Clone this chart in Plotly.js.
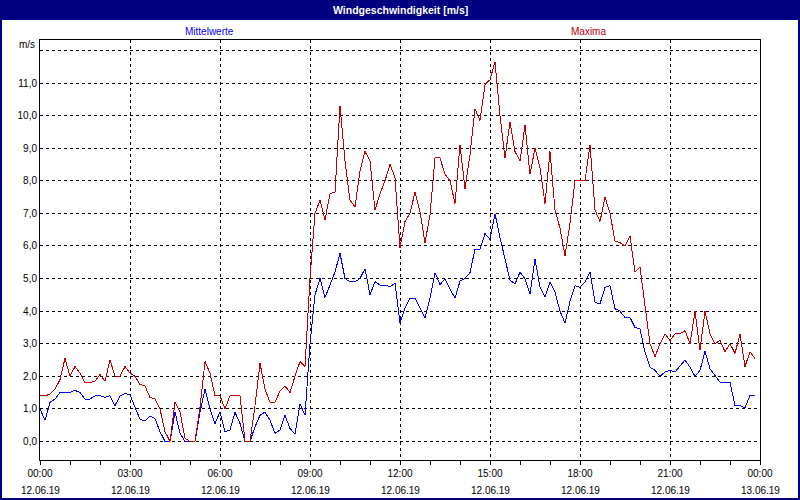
<!DOCTYPE html>
<html>
<head>
<meta charset="utf-8">
<script src="https://cdn.plot.ly/plotly-3.0.1.min.js"></script>
<style>
html, body { margin: 0; padding: 0; background: #ffffff; }
#chart { width: 800px; height: 500px; }
#chart .scatterlayer path.js-line { shape-rendering: crispEdges; }
</style>
</head>
<body>
<div id="chart"></div>
<script>
// 10-minute values, 12.06.19 00:00 .. 23:50
const maxima = [
  1.4, 1.4, 1.45, 1.6, 1.9, 2.55, 2.0, 2.3, 2.1, 1.8, 1.8, 1.85,
  2.05, 1.85, 2.5, 2.0, 2.0, 2.3, 2.1, 2.0, 1.75, 1.7, 1.35, 1.3,
  1.0, 0.3, 0.0, 1.2, 0.9, 0.1, 0.0, 0.0, 1.05, 2.45, 2.1, 1.4,
  1.4, 1.0, 1.4, 1.4, 1.4, 0.0, 0.0, 1.1, 2.4, 1.6, 1.2, 1.2,
  1.55, 1.7, 1.5, 2.0, 2.45, 2.3, 5.0, 7.0, 7.4, 6.8, 7.6, 7.65,
  10.3, 8.6, 7.4, 7.2, 8.3, 8.9, 8.6, 7.1, 7.6, 8.0, 8.5, 8.1,
  5.95, 6.75, 7.0, 7.65, 7.05, 6.1, 6.95, 8.7, 8.7, 8.2, 8.0, 7.3,
  9.1, 7.75, 8.8, 10.2, 9.85, 10.95, 11.1, 11.65, 10.0, 8.7, 9.8, 8.9,
  8.6, 9.7, 8.2, 9.0, 8.4, 7.3, 8.9, 7.1, 6.55, 5.7, 6.7, 8.0,
  8.0, 8.0, 9.1, 7.1, 6.75, 7.5, 7.0, 6.15, 6.1, 6.0, 6.3, 5.2,
  5.35, 4.1, 3.0, 2.6, 3.0, 3.3, 3.1, 3.3, 3.3, 3.4, 3.0, 4.0,
  2.8, 4.0, 3.3, 3.0, 3.1, 2.75, 3.0, 2.7, 3.3, 2.3, 2.75, 2.55
];
const mittelwerte = [
  1.0, 0.65, 1.2, 1.3, 1.5, 1.5, 1.5, 1.57, 1.5, 1.3, 1.3, 1.4,
  1.4, 1.35, 1.4, 1.1, 1.4, 1.47, 1.43, 1.05, 0.68, 0.63, 0.78, 0.7,
  0.3, 0.0, 0.0, 0.9, 0.25, 0.0, 0.0, 0.0, 0.9, 1.6, 1.0, 0.55,
  0.9, 0.3, 0.35, 0.9, 0.55, 0.0, 0.0, 0.45, 0.8, 0.9, 0.65, 0.25,
  0.35, 0.8, 0.4, 0.22, 1.15, 0.8, 3.0, 4.5, 5.0, 4.42, 4.8, 5.2,
  5.77, 5.0, 4.9, 4.9, 5.0, 5.3, 4.5, 4.9, 4.8, 4.8, 4.75, 4.85,
  3.65, 4.1, 4.4, 4.4, 4.1, 3.8, 4.4, 5.18, 4.82, 4.98, 4.67, 4.4,
  4.92, 5.0, 5.18, 5.9, 5.9, 6.38, 6.2, 6.99, 6.25, 5.55, 4.95, 4.84,
  5.19, 4.99, 4.53, 5.6, 4.73, 4.43, 4.89, 4.58, 4.0, 3.63, 4.3, 4.78,
  4.73, 4.89, 5.19, 4.27, 4.22, 4.73, 4.78, 4.07, 4.0, 3.8, 3.8, 3.5,
  3.45, 2.74, 2.28, 2.18, 2.0, 2.13, 2.18, 2.13, 2.33, 2.5, 2.28, 2.0,
  2.18, 2.77, 2.23, 2.02, 1.82, 1.82, 1.82, 1.1, 1.1, 1.03, 1.41, 1.41
];
const tickTimes = ['2019-06-12 00:00','2019-06-12 03:00','2019-06-12 06:00','2019-06-12 09:00',
  '2019-06-12 12:00','2019-06-12 15:00','2019-06-12 18:00','2019-06-12 21:00','2019-06-13 00:00'];
const tickTimeLabels = ['00:00','03:00','06:00','09:00','12:00','15:00','18:00','21:00','00:00'];
const tickDateLabels = ['12.06.19','12.06.19','12.06.19','12.06.19','12.06.19','12.06.19','12.06.19','12.06.19','13.06.19'];
const yTickVals = [0,1,2,3,4,5,6,7,8,9,10,11,12];
const yTickLabels = ['0,0','1,0','2,0','3,0','4,0','5,0','6,0','7,0','8,0','9,0','10,0','11,0',''];
const titleText = 'Windgeschwindigkeit [m/s]';
const unitText = 'm/s';
const seriesNames = ['Mittelwerte', 'Maxima'];

// time stamps every 10 minutes
function pad(n) { return (n < 10 ? '0' : '') + n; }
const times = [];
for (let i = 0; i < maxima.length; i++) {
  const m = i * 10;
  times.push('2019-06-12 ' + pad(Math.floor(m / 60)) + ':' + pad(m % 60));
}

const NAVY = '#000080';
const FONT = 'Liberation Sans, Arial, sans-serif';

// paper coordinate helpers (plot area: x 40..760, y 40..460)
const px = x => (x - 40) / 720;
const py = y => (460 - y) / 420;

const traces = [
  { x: times, y: mittelwerte, type: 'scatter', mode: 'lines', name: seriesNames[0],
    line: { color: '#0000ff', width: 1 }, hoverinfo: 'skip' },
  { x: times, y: maxima, type: 'scatter', mode: 'lines', name: seriesNames[1],
    line: { color: '#c00000', width: 1 }, hoverinfo: 'skip' }
];

const annotations = [
  { xref: 'paper', yref: 'paper', x: 0.5, y: py(10), text: titleText, showarrow: false,
    xanchor: 'center', yanchor: 'middle', font: { family: FONT, size: 10.5, color: '#ffffff', weight: 'bold' } },
  { xref: 'paper', yref: 'paper', x: px(209), y: py(31), text: seriesNames[0], showarrow: false,
    xanchor: 'center', yanchor: 'middle', font: { family: FONT, size: 10, color: '#0000ff' } },
  { xref: 'paper', yref: 'paper', x: px(588), y: py(31), text: seriesNames[1], showarrow: false,
    xanchor: 'center', yanchor: 'middle', font: { family: FONT, size: 10, color: '#c00000' } },
  { xref: 'paper', yref: 'paper', x: px(37), y: py(45), text: unitText, showarrow: false,
    xanchor: 'right', yanchor: 'middle', font: { family: FONT, size: 10, color: '#000000' } }
];
tickTimes.forEach((t, k) => {
  annotations.push({ xref: 'x', yref: 'paper', x: t, y: py(490), text: tickDateLabels[k],
    showarrow: false, xanchor: 'center', yanchor: 'middle',
    font: { family: FONT, size: 10, color: '#000000' } });
});

const layout = {
  width: 800, height: 500,
  margin: { l: 40, r: 40, t: 40, b: 40, pad: 0 },
  paper_bgcolor: '#ffffff', plot_bgcolor: '#ffffff',
  showlegend: false,
  separators: ',.',
  font: { family: FONT, size: 10, color: '#000000' },
  xaxis: {
    type: 'date',
    range: ['2019-06-12 00:00', '2019-06-13 00:00'],
    tickmode: 'array', tickvals: tickTimes, ticktext: tickTimeLabels,
    ticks: 'outside', ticklen: 4, tickcolor: '#000000', tickwidth: 1,
    minor: { dtick: 3600000, tick0: '2019-06-12 00:00', ticks: 'outside', ticklen: 4, tickcolor: '#000000', showgrid: false },
    showgrid: true, gridcolor: '#000000', gridwidth: 1, griddash: '3px,3px',
    showline: true, linecolor: '#000000', linewidth: 1, mirror: true,
    zeroline: false, fixedrange: true,
    tickfont: { family: FONT, size: 10, color: '#000000' }
  },
  yaxis: {
    range: [-0.57, 12.32],
    tickmode: 'array', tickvals: yTickVals, ticktext: yTickLabels,
    ticks: '', ticklabelstandoff: 0,
    showgrid: true, gridcolor: '#000000', gridwidth: 1, griddash: '3px,3px',
    showline: true, linecolor: '#000000', linewidth: 1, mirror: true,
    zeroline: false, fixedrange: true,
    tickfont: { family: FONT, size: 10, color: '#000000' }
  },
  shapes: [
    { type: 'rect', xref: 'paper', yref: 'paper', x0: px(0), x1: px(800), y0: py(20), y1: py(0),
      fillcolor: NAVY, line: { width: 0 }, layer: 'above' },
    { type: 'rect', xref: 'paper', yref: 'paper', x0: px(1), x1: px(799), y0: py(499), y1: py(1),
      fillcolor: 'rgba(0,0,0,0)', line: { color: NAVY, width: 2 }, layer: 'above' }
  ],
  annotations: annotations
};

Plotly.newPlot('chart', traces, layout, { staticPlot: true, displayModeBar: false });
</script>
</body>
</html>
